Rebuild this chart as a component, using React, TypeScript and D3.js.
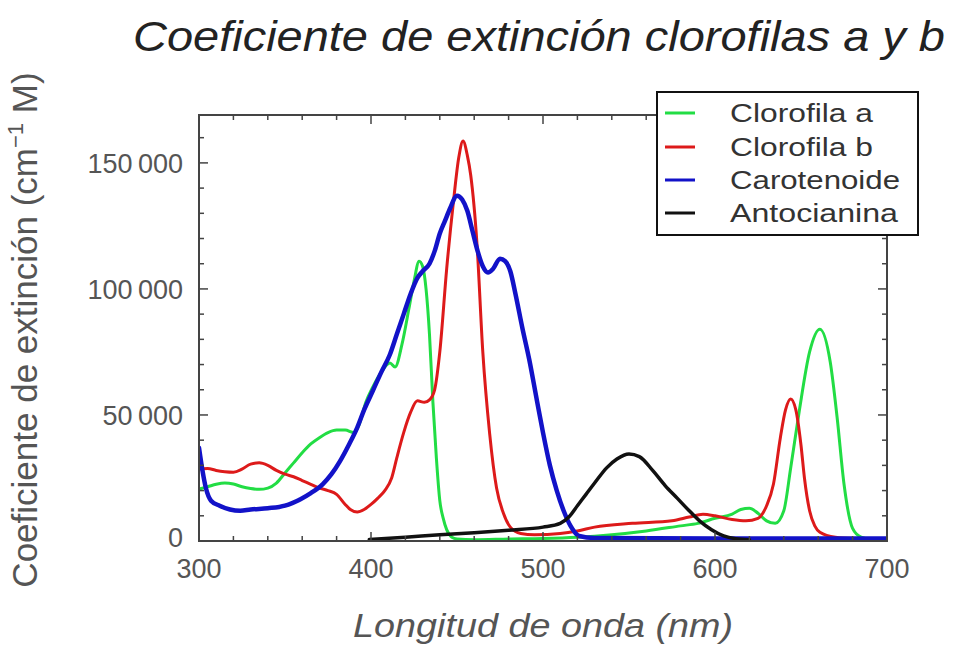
import React from "react";
import * as d3 from "d3";

// ---- Data ----
const chlAWl = [300,305,310,315,320,325,330,335,340,345,350,355,360,365,370,375,380,385,390,393,397,401,406,411,414,418,422,425,428,430,432,434,436,438,440,442,444,447,450,460,480,500,520,540,560,580,590,600,610,615,620,625,630,635,640,644,649,655,661,667,671,675,680,685,690,700];
const chlAVal = [20600,21500,22500,23000,22600,21500,20800,20500,21000,23000,27000,31000,35000,38500,41000,43000,44000,44000,43000,46000,55000,61000,67000,70600,69000,78000,92000,103000,111000,109000,100000,82000,55000,33000,16000,9000,4500,1500,800,500,800,1000,1500,2500,4000,6000,7000,9000,10700,12500,13000,11000,8000,7000,12000,29000,51600,75000,84000,71000,49000,22600,5000,1500,800,800];

const chlBWl = [300,305,310,315,320,325,330,335,340,345,350,355,360,365,370,375,380,385,388,392,396,400,404,408,412,415,419,423,427,431,434,437,440,444,448,451,453.5,456,458,461.6,465,469,473,477,481,487,495,510,520,530,552,575,585,593,600,610,618,625,630,634,638,641,644,647,650,652,655,658,661,670,680,700];
const chlBVal = [28600,28800,28000,27500,27300,28500,30500,31000,30000,28000,26500,25500,24000,22500,21000,20000,18500,14500,12500,11500,12500,14500,17000,20000,25000,33000,43000,51000,55600,55000,56000,60000,75000,108000,135000,152000,158700,153000,145000,118000,75000,42500,21000,11000,5500,3000,2500,3000,4000,5500,7000,8000,9500,10600,10000,8500,8000,9000,14000,22600,41000,52000,56300,52000,38000,25000,12000,6000,3500,1500,1000,800];

const carWl = [300,302,304,307,312,318,324,330,340,350,359,365,372,377,382,387,392,396,401,406,411,415,419,423,427,430,434,437,440,443,446,450,453,456,459,462,465,468,471,475,478,481,484,488,492,496.5,500,504,508,512,516,521,530,600,700];
const carVal = [37000,28000,21000,16000,14000,12500,12000,12500,13000,14000,16600,19000,22600,26500,31700,38000,45000,52000,59500,67000,74000,82000,90000,98000,104400,107000,110000,115000,122000,127000,132000,137000,135500,131000,123000,115000,109000,106500,108000,112000,111000,107000,98000,84500,72000,55600,43000,30000,20000,12000,6000,2000,1200,1000,1000];

const antWl = [399,420,440,460,480,500,510,515,520,525,530,537,543,550,556,564,571,578,585,591,598,605,612,620];
const antVal = [600,1500,2500,3300,4300,5500,7000,9500,14000,18500,23000,29000,32500,34500,33500,27800,22000,17000,12000,8000,4500,2000,900,500];

const seriesNames = ["Clorofila a", "Clorofila b", "Carotenoide", "Antocianina"];
const seriesColors = ["#22dd44", "#dd1a1a", "#1212c8", "#111111"];
const seriesWidths = [3, 3, 4.5, 3.5];
const seriesWl = [chlAWl, chlBWl, carWl, antWl];
const seriesVal = [chlAVal, chlBVal, carVal, antVal];

const xMajorTicks = [300, 400, 500, 600, 700];
const yMajorTicks = [0, 50000, 100000, 150000];
const yTickLabels = ["0", "50\u2009000", "100\u2009000", "150\u2009000"];

const title = "Coeficiente de extinción clorofilas a y b";
const xTitle = "Longitud de onda (nm)";

const FONT = "'Liberation Sans', Arial, Helvetica, sans-serif";

export default function App() {
  const W = 957, H = 645;
  const left = 199, right = 887, top = 115, bottom = 541;
  const x = d3.scaleLinear().domain([300, 700]).range([left, right]);
  const y = d3.scaleLinear().domain([0, 169000]).range([bottom, top]);

  const line = d3
    .line<[number, number]>()
    .x((d) => x(d[0]))
    .y((d) => y(d[1]))
    .curve(d3.curveMonotoneX);

  const xMinor = d3.range(300, 701, 20);
  const yMinor = d3.range(0, 169000, 10000);

  const legendRows = [113, 147, 180, 213];
  const legendLens = [143, 143, 170, 168];

  return (
    <svg
      width={W}
      height={H}
      style={{ position: "absolute", left: 0, top: 0, background: "#fff" }}
      fontFamily={FONT}
    >
      <rect x={0} y={0} width={W} height={H} fill="#fff" />
      {/* title */}
      <text x={133} y={51} fontSize={42} fontStyle="italic" fill="#222" textLength={812} lengthAdjust="spacingAndGlyphs">
        {title}
      </text>

      <defs>
        <clipPath id="plotclip">
          <rect x={left} y={top} width={right - left} height={bottom - top} />
        </clipPath>
      </defs>

      {/* curves */}
      <g clipPath="url(#plotclip)">
        {seriesNames.map((n, i) => {
          const pts = seriesWl[i].map((w, j) => [w, seriesVal[i][j]] as [number, number]);
          return (
            <path
              key={n}
              d={line(pts) || ""}
              fill="none"
              stroke={seriesColors[i]}
              strokeWidth={seriesWidths[i]}
              strokeLinejoin="round"
              strokeLinecap="round"
            />
          );
        })}
      </g>

      {/* frame */}
      <rect x={left} y={top} width={right - left} height={bottom - top} fill="none" stroke="#444" strokeWidth={2} />

      {/* x ticks */}
      {xMinor.map((v) => {
        const major = v % 100 === 0;
        const len = major ? 9 : 5;
        return (
          <g key={"xt" + v} stroke="#444" strokeWidth={1.5}>
            <line x1={x(v)} x2={x(v)} y1={bottom} y2={bottom - len} />
            <line x1={x(v)} x2={x(v)} y1={top} y2={top + len} />
          </g>
        );
      })}
      {/* y ticks */}
      {yMinor.map((v) => {
        const major = v % 50000 === 0;
        const len = major ? 9 : 5;
        return (
          <g key={"yt" + v} stroke="#444" strokeWidth={1.5}>
            <line x1={left} x2={left + len} y1={y(v)} y2={y(v)} />
            <line x1={right} x2={right - len} y1={y(v)} y2={y(v)} />
          </g>
        );
      })}

      {/* x tick labels */}
      {xMajorTicks.map((v) => (
        <text key={"xl" + v} x={x(v)} y={578} fontSize={27} fill="#555" textAnchor="middle">
          {v}
        </text>
      ))}
      {/* y tick labels */}
      {yMajorTicks.map((v, i) => (
        <text key={"yl" + v} x={183} y={v === 0 ? y(v) + 6 : y(v) + 10} fontSize={27} fill="#555" textAnchor="end">
          {yTickLabels[i]}
        </text>
      ))}

      {/* axis titles */}
      <text x={543} y={637} fontSize={34} fontStyle="italic" fill="#555" textAnchor="middle" textLength={380} lengthAdjust="spacingAndGlyphs">
        {xTitle}
      </text>
      <text transform="translate(37,330) rotate(-90)" fontSize={35} fill="#555" textAnchor="middle">
        Coeficiente de extinción (cm
        <tspan fontSize={22} dy={-14}>−1</tspan>
        <tspan dy={14}> M)</tspan>
      </text>

      {/* legend */}
      <rect x={657} y={92} width={261} height={143} fill="#fff" stroke="#111" strokeWidth={2} />
      {seriesNames.map((n, i) => (
        <g key={"lg" + n}>
          <line x1={665} x2={695} y1={legendRows[i]} y2={legendRows[i]} stroke={seriesColors[i]} strokeWidth={3} />
          <text x={730} y={legendRows[i] + 9} fontSize={25} fill="#333" textLength={legendLens[i]} lengthAdjust="spacingAndGlyphs">
            {n}
          </text>
        </g>
      ))}
    </svg>
  );
}
